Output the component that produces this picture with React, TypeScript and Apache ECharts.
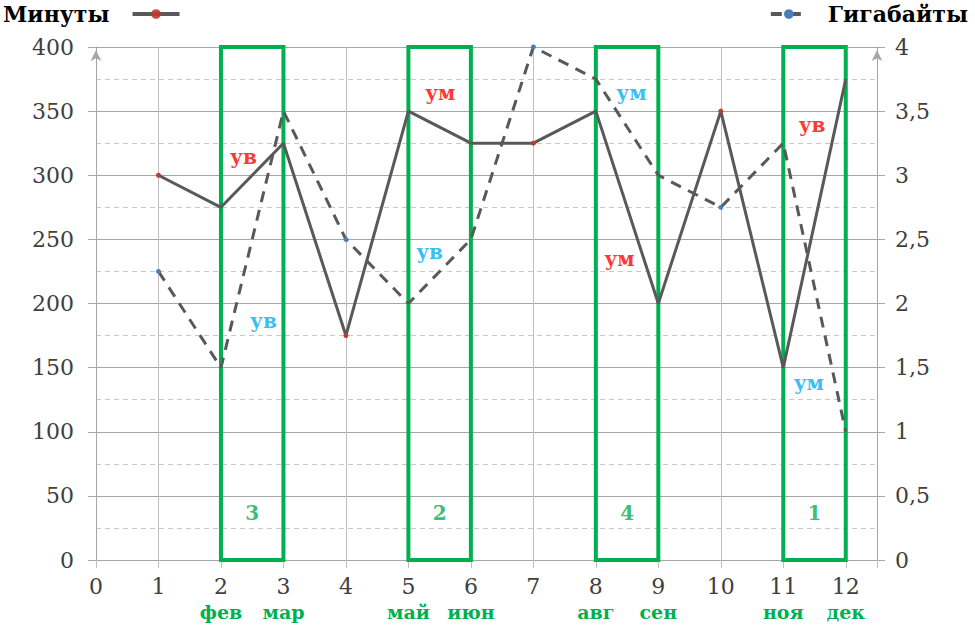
import React, { useEffect, useRef } from "react";
import * as echarts from "echarts";

const xValues = [1, 2, 3, 4, 5, 6, 7, 8, 9, 10, 11, 12];
const minutes = [300, 275, 325, 175, 350, 325, 325, 350, 200, 350, 150, 375];
const gigabytes = [2.25, 1.5, 3.5, 2.5, 2.0, 2.5, 4.0, 3.75, 3.0, 2.75, 3.25, 1.0];
const markedX = [1, 4, 7, 10];

const monthTicks = [2, 3, 5, 6, 8, 9, 11, 12];
const monthNames = ["фев", "мар", "май", "июн", "авг", "сен", "ноя", "дек"];

const boxStart = [2, 5, 8, 11];
const boxEnd = [3, 6, 9, 12];
const boxRank = ["3", "2", "4", "1"];
const boxTop = 402;
const rankY = 37;

const noteText = ["ув", "ум", "ум", "ув", "ув", "ув", "ум", "ум"];
const noteColor = ["red", "red", "red", "red", "blue", "blue", "blue", "blue"];
const noteX = [2.36, 5.51, 8.38, 11.46, 2.68, 5.34, 8.57, 11.41];
const noteY = [314, 364, 235, 339, 186, 240, 364, 138];

const FONT = "DejaVu Serif";
const GREEN = "#00B050";
const LINE = "#595959";

export default function App() {
  const ref = useRef<HTMLDivElement>(null);
  useEffect(() => {
    const chart = echarts.init(ref.current!, null, { renderer: "svg" });
    const monthMap: Record<number, string> = {};
    monthTicks.forEach((t, i) => (monthMap[t] = monthNames[i]));

    const mkData = (vals: number[]) =>
      xValues.map((x, i) =>
        markedX.includes(x)
          ? { value: [x, vals[i]], symbol: "circle", symbolSize: 5 }
          : { value: [x, vals[i]], symbol: "none" }
      );

    const legendText = { fontFamily: FONT, fontWeight: "bold", fontSize: 22, color: "#000" };

    const option: any = {
      animation: false,
      grid: { left: 96, right: 98, top: 47, bottom: 66 },
      legend: [
        {
          data: ["Минуты"],
          left: -2,
          top: -2,
          align: "right",
          itemWidth: 47,
          itemHeight: 12,
          lineStyle: { width: 4 },
          itemStyle: { opacity: 0.9 },
          textStyle: { ...legendText, padding: [0, 18, 0, 0] },
        },
        {
          data: ["Гигабайты"],
          right: 2,
          top: -2,
          align: "left",
          itemWidth: 36,
          itemHeight: 12,
          lineStyle: { width: 4 },
          textStyle: { ...legendText, padding: [0, 0, 0, 16] },
        },
      ],
      xAxis: {
        type: "value",
        min: 0,
        max: 12.5,
        interval: 1,
        axisLine: { show: true, lineStyle: { color: "#a6a6a6", width: 1 } },
        axisTick: { show: true, length: 8, lineStyle: { color: "#bfbfbf" } },
        splitLine: { show: true, lineStyle: { color: "#bfbfbf", width: 1 } },
        axisLabel: {
          margin: 13,
          formatter: (v: number) =>
            Number.isInteger(v)
              ? monthMap[v]
                ? `{n|${v}}\n{m|${monthMap[v]}}`
                : `{n|${v}}`
              : "",
          rich: {
            n: { fontFamily: FONT, fontSize: 22, color: "#404040", lineHeight: 27 },
            m: { fontFamily: FONT, fontSize: 19, fontWeight: "bold", color: GREEN, lineHeight: 24 },
          },
        },
      },
      yAxis: [
        {
          type: "value",
          min: 0,
          max: 400,
          interval: 50,
          axisLine: {
            show: true,
            symbol: ["none", "arrow"],
            symbolSize: [8, 11],
            symbolOffset: [0, -3],
            lineStyle: { color: "#a6a6a6", width: 1 },
          },
          axisTick: { show: true, length: 8, lineStyle: { color: "#a6a6a6" } },
          axisLabel: { margin: 22, fontFamily: FONT, fontSize: 22, color: "#404040" },
          splitLine: { show: true, lineStyle: { color: "#a6a6a6", width: 1 } },
          minorTick: { show: false, splitNumber: 2 },
          minorSplitLine: { show: true, lineStyle: { color: "#c8c8c8", type: [5, 4], width: 1 } },
        },
        {
          type: "value",
          position: "right",
          min: 0,
          max: 4,
          interval: 0.5,
          axisLine: {
            show: true,
            symbol: ["none", "arrow"],
            symbolSize: [8, 11],
            symbolOffset: [0, -3],
            lineStyle: { color: "#a6a6a6", width: 1 },
          },
          axisTick: { show: true, length: 8, lineStyle: { color: "#a6a6a6" } },
          axisLabel: {
            margin: 18,
            fontFamily: FONT,
            fontSize: 22,
            color: "#404040",
            formatter: (v: number) => String(v).replace(".", ","),
          },
          splitLine: { show: false },
        },
      ],
      series: [
        {
          name: "Минуты",
          type: "line",
          yAxisIndex: 0,
          symbol: "circle",
          symbolSize: 4,
          data: mkData(minutes),
          lineStyle: { color: LINE, width: 3 },
          itemStyle: { color: "#c0392b" },
          z: 3,
          markArea: {
            silent: true,
            itemStyle: { color: "rgba(0,0,0,0)", borderColor: GREEN, borderWidth: 4 },
            label: { show: false },
            data: boxStart.map((s, i) => [
              { xAxis: s, yAxis: 0 },
              { xAxis: boxEnd[i], yAxis: boxTop },
            ]),
          },
        },
        {
          name: "Гигабайты",
          type: "line",
          yAxisIndex: 1,
          symbol: "circle",
          symbolSize: 4,
          data: mkData(gigabytes),
          lineStyle: { color: LINE, width: 3, type: [11, 8] },
          itemStyle: { color: "#4a7ebb" },
          z: 3,
        },
        {
          name: "ranks",
          type: "scatter",
          yAxisIndex: 0,
          symbolSize: 0,
          silent: true,
          z: 5,
          label: {
            show: true,
            position: "inside",
            formatter: (p: any) => p.name,
            fontFamily: FONT,
            fontWeight: "bold",
            fontSize: 20,
            color: GREEN,
          },
          data: boxStart.map((s, i) => ({
            name: boxRank[i],
            value: [(s + boxEnd[i]) / 2, rankY],
          })),
        },
        {
          name: "notes",
          type: "scatter",
          yAxisIndex: 0,
          symbolSize: 0,
          silent: true,
          z: 5,
          label: {
            show: true,
            position: "inside",
            formatter: (p: any) => p.name,
            fontFamily: FONT,
            fontWeight: "bold",
            fontSize: 20,
          },
          data: noteText.map((t, i) => ({
            name: t,
            value: [noteX[i], noteY[i]],
            label: { color: noteColor[i] === "red" ? "#FF0000" : "#00B0F0" },
          })),
        },
      ],
    };
    chart.setOption(option);
    return () => chart.dispose();
  }, []);
  return <div ref={ref} style={{ width: 975, height: 626, position: "absolute", left: 0, top: 0 }} />;
}
